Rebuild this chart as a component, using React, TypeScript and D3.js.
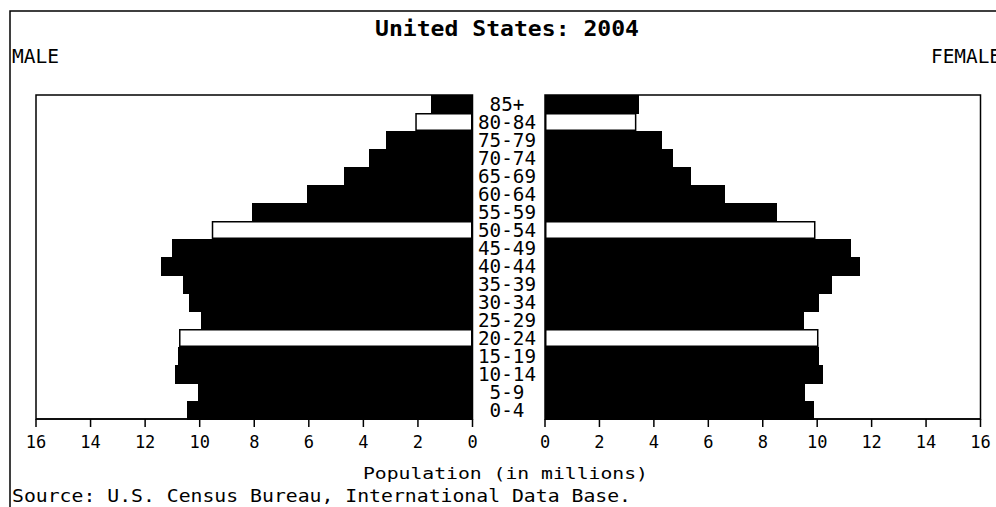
import React from "react";
import * as d3 from "d3";

const ages = ["0-4","5-9","10-14","15-19","20-24","25-29","30-34","35-39","40-44","45-49","50-54","55-59","60-64","65-69","70-74","75-79","80-84","85+"];
const male = [10.45,10.08,10.89,10.80,10.73,9.96,10.39,10.61,11.42,11.00,9.53,8.10,6.05,4.70,3.81,3.17,2.07,1.53];
const female = [9.87,9.56,10.22,10.07,10.02,9.50,10.05,10.55,11.58,11.24,9.91,8.51,6.62,5.37,4.72,4.30,3.33,3.46];
const highlighted = ["80-84","50-54","20-24"];
const tickValues = [0,2,4,6,8,10,12,14,16];

const title = "United States: 2004";
const axisTitle = "Population (in millions)";
const source = "Source: U.S. Census Bureau, International Data Base.";

const W = 996, H = 507;
const mono = "'DejaVu Sans Mono', 'Liberation Mono', monospace";

export default function App() {
  const top = 95, bottom = 419;
  const xM = d3.scaleLinear().domain([0, 16]).range([472.5, 36]);
  const xF = d3.scaleLinear().domain([0, 16]).range([545, 980.5]);
  const y = d3.scaleBand<string>().domain([...ages].reverse()).range([top, bottom]).padding(0);
  const bw = y.bandwidth();

  return (
    <svg width={W} height={H} style={{ position: "absolute", left: 0, top: 0, background: "#fff" }}>
      <rect x={0} y={0} width={W} height={H} fill="#fff" />
      {/* outer frame */}
      <rect x={10} y={11} width={1010} height={600} fill="none" stroke="#000" strokeWidth={1.5} />
      <text x={507} y={36} textAnchor="middle" fontFamily={mono} fontWeight="bold" fontSize={21}
        textLength={264} lengthAdjust="spacingAndGlyphs">{title}</text>
      <text x={12} y={63} fontFamily={mono} fontSize={20} textLength={47} lengthAdjust="spacingAndGlyphs">MALE</text>
      <text x={931} y={63} fontFamily={mono} fontSize={20} textLength={70} lengthAdjust="spacingAndGlyphs">FEMALE</text>

      {/* panel boxes */}
      <rect x={xM(16)} y={top} width={xM(0) - xM(16)} height={bottom - top} fill="none" stroke="#000" strokeWidth={1.5} />
      <rect x={xF(0)} y={top} width={xF(16) - xF(0)} height={bottom - top} fill="none" stroke="#000" strokeWidth={1.5} />

      {/* bars */}
      <g shapeRendering="crispEdges">
        {ages.map((a, i) => {
          const hl = highlighted.includes(a);
          if (hl) return null;
          return (
            <g key={a}>
              <rect x={xM(male[i])} y={y(a)!} width={xM(0) - xM(male[i])} height={bw + 0.5} fill="#000" />
              <rect x={xF(0)} y={y(a)!} width={xF(female[i]) - xF(0)} height={bw + 0.5} fill="#000" />
            </g>
          );
        })}
      </g>
      {ages.map((a, i) => {
        const hl = highlighted.includes(a);
        if (!hl) return null;
        return (
          <g key={a}>
            <rect x={xM(male[i])} y={y(a)! + 0.75} width={xM(0) - xM(male[i]) - 0.75} height={bw - 1.5} fill="#fff" stroke="#000" strokeWidth={1.5} />
            <rect x={xF(0) + 0.75} y={y(a)! + 0.75} width={xF(female[i]) - xF(0) - 0.75} height={bw - 1.5} fill="#fff" stroke="#000" strokeWidth={1.5} />
          </g>
        );
      })}

      {/* age labels */}
      {ages.map((a) => (
        <text key={a} x={507} y={y(a)! + bw - 2.5} textAnchor="middle" fontFamily={mono} fontSize={19}
          textLength={a.length * 11.6} lengthAdjust="spacingAndGlyphs">{a}</text>
      ))}

      {/* axes */}
      {[xM, xF].map((sc, k) => (
        <g key={k}>
          <line x1={sc(0)} x2={sc(16)} y1={bottom} y2={bottom} stroke="#000" strokeWidth={1.5} />
          {tickValues.map((t) => (
            <g key={t}>
              <line x1={sc(t)} x2={sc(t)} y1={bottom} y2={bottom + 8} stroke="#000" strokeWidth={1.5} />
              <text x={sc(t)} y={448} textAnchor="middle" fontFamily={mono} fontSize={17}>{t}</text>
            </g>
          ))}
        </g>
      ))}

      <text x={363} y={479} fontFamily={mono} fontSize={16.5} textLength={285} lengthAdjust="spacingAndGlyphs">{axisTitle}</text>
      <text x={12} y={502} fontFamily={mono} fontSize={17} textLength={619} lengthAdjust="spacingAndGlyphs">{source}</text>
    </svg>
  );
}
